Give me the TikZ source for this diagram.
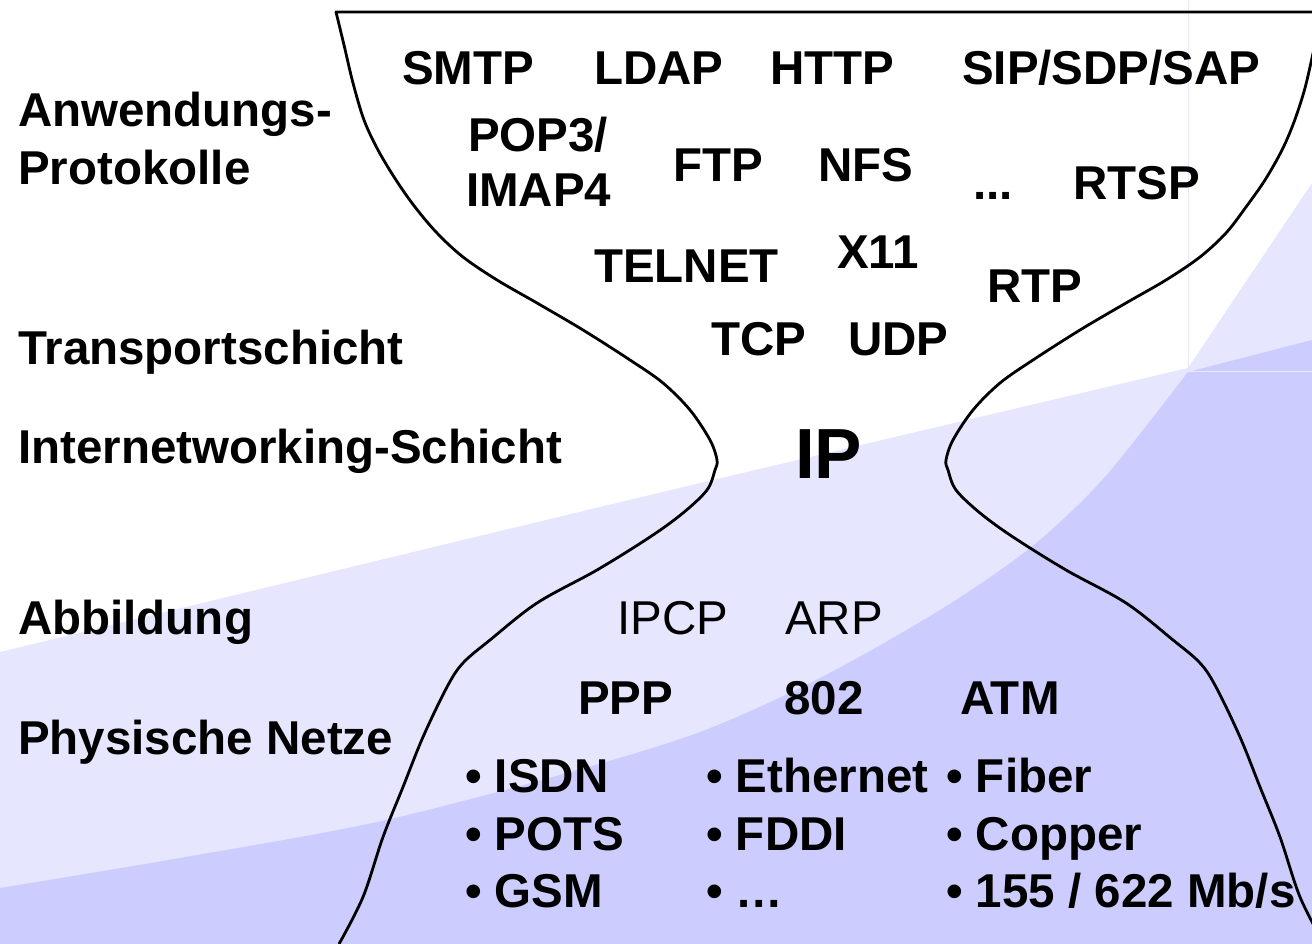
\documentclass[tikz,border=0pt]{standalone}
\usepackage{fontspec}
\setmainfont{Liberation Sans}
\definecolor{bglight}{RGB}{230,230,255}
\definecolor{bgdark}{RGB}{204,204,255}
\begin{document}
\begin{tikzpicture}[x=1pt,y=-1pt,
  lbl/.style={anchor=base west, inner sep=0pt, font=\fontsize{47.5}{57}\selectfont\bfseries},
  thinlbl/.style={anchor=base west, inner sep=0pt, font=\fontsize{47.5}{57}\selectfont},
  biglbl/.style={anchor=base west, inner sep=0pt, font=\fontsize{71}{80}\selectfont\bfseries},
  outline/.style={line width=2.8pt, line join=round}]
\useasboundingbox (0,0) rectangle (1312,944);
\begin{scope}
\clip (0,0) rectangle (1312,944);
% background bands
\fill[bglight] plot[smooth] coordinates {(0,652) (650,495) (1188,368)} -- (1312,183) -- (1312,944) -- (0,944) -- cycle;
\fill[bgdark] plot[smooth] coordinates {(0,888) (180,858) (377,822) (560,775) (700,732) (820,678) (940,610) (1030,548) (1104,478) (1188,372)} -- (1312,340) -- (1312,944) -- (0,944) -- cycle;
\draw[bglight, line width=1pt] (1188,0) -- (1188,368);
\draw[white!55!bgdark, line width=1pt] (1188,371) -- (1312,371);
% hourglass outline
\draw[outline] plot[smooth, tension=0.55] coordinates {(339,944) (363,897) (383,837) (403,787) (423,737) (447,687) (463,663) (490,640) (537,603) (597,570) (650,537) (683,513) (707,490) (715,470) (717,460) (710,440) (690,410) (663,383) (630,360) (583,330) (537,303) (497,280) (463,257) (437,233) (415,207) (396,180) (378,150) (364,120) (353,83) (344,45) (336,12)}
  -- plot[smooth, tension=0.55] coordinates {(1324,12) (1315,45) (1305,88) (1294,122) (1282,150) (1265,180) (1246,207) (1226,233) (1200,257) (1166,280) (1126,303) (1080,330) (1033,360) (1000,383) (973,410) (953,440) (946,460) (948,470) (956,490) (980,513) (1013,537) (1066,570) (1126,603) (1173,640) (1200,663) (1216,687) (1240,737) (1260,787) (1280,837) (1300,897) (1324,944)};
\end{scope}
% layer labels
\node[lbl] (anw) at (18,127) {Anwendungs-};
\node[lbl] (prot) at (18,185) {Protokolle};
\node[lbl] (trans) at (18,364) {Transportschicht};
\node[lbl] (inet) at (18,463) {Internetworking-Schicht};
\node[lbl] (abb) at (18,634) {Abbildung};
\node[lbl] (phys) at (18,754) {Physische Netze};
% application protocols
\node[lbl] (smtp) at (402,85) {SMTP};
\node[lbl] (ldap) at (594,85) {LDAP};
\node[lbl] (http) at (770,85) {HTTP};
\node[lbl] (sip) at (962,85) {SIP/SDP/SAP};
\node[lbl] (pop) at (468,152) {POP3/};
\node[lbl] (imap) at (466,207) {IMAP4};
\node[lbl] (ftp) at (673,182) {FTP};
\node[lbl] (nfs) at (818,182) {NFS};
\node[lbl] (dots) at (973,200) {...};
\node[lbl] (rtsp) at (1073,200) {RTSP};
\node[lbl] (telnet) at (594,282) {TELNET};
\node[lbl] (x11) at (837,269) {X11};
\node[lbl] (rtp) at (987,302) {RTP};
% transport
\node[lbl] (tcp) at (711,355) {TCP};
\node[lbl] (udp) at (848,355) {UDP};
% internetworking
\node[biglbl] (ip) at (795,478) {IP};
% mapping
\node[thinlbl] (ipcp) at (617,634) {IPCP};
\node[thinlbl] (arp) at (785,634) {ARP};
% physical
\node[lbl] (ppp) at (578,714) {PPP};
\node[lbl] (n802) at (784,714) {802};
\node[lbl] (atm) at (960,714) {ATM};
\node[lbl] (isdn) at (465,792) {• ISDN};
\node[lbl] (pots) at (465,850) {• POTS};
\node[lbl] (gsm) at (465,907) {• GSM};
\node[lbl] (eth) at (706,792) {• Ethernet};
\node[lbl] (fddi) at (706,850) {• FDDI};
\node[lbl] (more) at (706,907) {• …};
\node[lbl] (fiber) at (946,792) {• Fiber};
\node[lbl] (copper) at (946,850) {• Copper};
\node[lbl] (rate) at (946,907) {• 155 / 622 Mb/s};
\end{tikzpicture}
\end{document}
